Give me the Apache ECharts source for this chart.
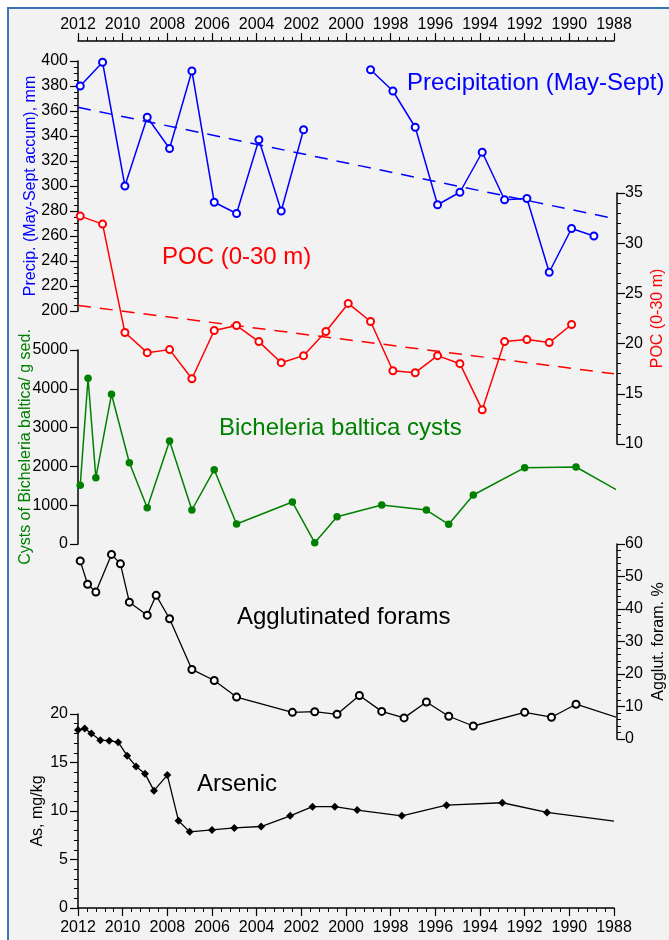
<!DOCTYPE html>
<html>
<head>
    <meta charset="utf-8" />
    <title>Precipitation, POC, cysts, forams, arsenic</title>
    <script src="https://cdn.jsdelivr.net/npm/echarts@6/dist/echarts.min.js"></script>
    <style>
        html, body { margin: 0; padding: 0; background: #fff; }
        #main { width: 669px; height: 940px; }
    </style>
</head>
<body>
    <div id="main"></div>
    <script type="text/javascript">
        // annual series (precipitation, POC), decimal years
        var annualYears = [2011.9, 2010.9, 2009.9, 2008.9, 2007.9, 2006.9, 2005.9, 2004.9, 2003.9, 2002.9, 2001.9, 2000.9,
            1999.9, 1998.9, 1997.9, 1996.9, 1995.9, 1994.9, 1993.9, 1992.9, 1991.9, 1990.9, 1989.9, 1988.9];
        var precip = [380, 399, 300, 355, 330, 392, 287, 278, 337, 280, 345, null,
            null, 393, 376, 347, 285, 295, 327, 289, 290, 231, 266, 260];
        var poc = [32.7, 31.9, 21.1, 19.1, 19.4, 16.5, 21.3, 21.8, 20.2, 18.1, 18.8, 21.2,
            24.0, 22.2, 17.3, 17.1, 18.8, 18.0, 13.4, 20.2, 20.4, 20.1, 21.9, null];
        var precipTrend = [[2012, 363], [1988, 274]];
        var pocTrend = [[2012, 23.8], [1988, 17.0]];

        // sediment core series
        var cystYears = [2011.9, 2011.55, 2011.2, 2010.5, 2009.7, 2008.9, 2007.9, 2006.9, 2005.9, 2004.9, 2002.4,
            2001.4, 2000.4, 1998.4, 1996.4, 1995.4, 1994.3, 1992.0, 1989.7, 1987.9];
        var cysts = [1513, 4271, 1709, 3858, 2095, 936, 2655, 876, 1915, 515, 1082,
            34, 704, 1005, 876, 507, 1263, 1967, 1985, 1400];

        var aggYears = [2011.9, 2011.57, 2011.2, 2010.5, 2010.1, 2009.7, 2008.9, 2008.5, 2007.9, 2006.9, 2005.9, 2004.9,
            2002.4, 2001.4, 2000.4, 1999.4, 1998.4, 1997.4, 1996.4, 1995.4, 1994.3, 1992.0, 1990.8, 1989.7, 1987.9];
        var agglut = [54.8, 47.6, 45.2, 56.8, 53.9, 42.1, 38.1, 44.2, 37.0, 21.4, 18.0, 12.9,
            8.2, 8.4, 7.6, 13.4, 8.5, 6.5, 11.4, 7.0, 4.0, 8.2, 6.7, 10.7, 6.7];

        var asYears = [2012.0, 2011.7, 2011.4, 2011.0, 2010.6, 2010.2, 2009.8, 2009.4, 2009.0, 2008.6, 2008.0, 2007.5,
            2007.0, 2006.0, 2005.0, 2003.8, 2002.5, 2001.5, 2000.5, 1999.5, 1997.5, 1995.5, 1993.0, 1991.0, 1988.0];
        var arsenic = [18.35, 18.5, 18.0, 17.3, 17.25, 17.1, 15.7, 14.6, 13.85, 12.1, 13.7, 9.0,
            7.85, 8.05, 8.25, 8.4, 9.5, 10.45, 10.45, 10.1, 9.5, 10.6, 10.85, 9.85, 8.95];

        var FONT = '"Liberation Sans", Arial, sans-serif';

        function pairs(xs, ys) {
            return xs.map(function (x, i) {
                return [x, ys[i] == null ? '-' : ys[i]];
            });
        }

        function plainNumber(v) {
            return String(v);
        }

        function xAxisFor(gridIndex, show, position) {
            return {
                gridIndex: gridIndex,
                type: 'value',
                min: 1988, max: 2012, interval: 2,
                inverse: true,
                show: show,
                position: position,
                offset: position === 'top' ? 20 : 0,
                axisLine: { show: true, lineStyle: { color: '#000', width: 1.5 } },
                axisTick: { show: true, length: 8, lineStyle: { color: '#000', width: 1.2 } },
                splitLine: { show: false },
                axisLabel: {
                    color: '#000', fontSize: 16, fontFamily: FONT, margin: position === 'top' ? 8 : 12,
                    formatter: plainNumber, showMinLabel: true, showMaxLabel: true
                }
            };
        }

        // extra axis only used to draw short minor ticks
        function minorXAxis(gridIndex, position) {
            return {
                gridIndex: gridIndex,
                type: 'value',
                min: 1988, max: 2012, interval: 0.4,
                inverse: true,
                position: position,
                offset: position === 'top' ? 20 : 0,
                axisLine: { show: false },
                axisTick: { show: true, length: 4, lineStyle: { color: '#000', width: 1 } },
                splitLine: { show: false },
                axisLabel: { show: false }
            };
        }

        function yAxisFor(gridIndex, opts) {
            var right = opts.position === 'right';
            return {
                gridIndex: gridIndex,
                type: 'value',
                position: opts.position,
                offset: right ? 3 : 0,
                min: opts.min, max: opts.max, interval: opts.interval,
                name: opts.name,
                nameLocation: 'middle',
                nameGap: opts.nameGap,
                nameMoveOverlap: false,
                nameTextStyle: { color: opts.nameColor, fontSize: 16, fontFamily: FONT },
                axisLine: { show: true, lineStyle: { color: '#000', width: 1.5 } },
                axisTick: { show: true, length: 8, lineStyle: { color: '#000', width: 1.2 } },
                splitLine: { show: false },
                axisLabel: { color: '#000', fontSize: 16, fontFamily: FONT, margin: right ? 8 : 10, formatter: plainNumber, showMinLabel: true, showMaxLabel: true }
            };
        }

        function minorYAxis(gridIndex, position, min, max, step) {
            return {
                gridIndex: gridIndex,
                type: 'value',
                position: position,
                offset: position === 'right' ? 3 : 0,
                min: min, max: max, interval: step,
                axisLine: { show: false },
                axisTick: { show: true, length: 4, lineStyle: { color: '#000', width: 1 } },
                splitLine: { show: false },
                axisLabel: { show: false }
            };
        }

        var chart = echarts.init(document.getElementById('main'), null, { renderer: 'canvas' });

        var option = {
            animation: false,
            backgroundColor: '#ffffff',
            graphic: [
                {
                    type: 'rect', z: -10, silent: true,
                    shape: { x: 8, y: 8, width: 700, height: 1000 },
                    style: { fill: '#f2f2f2', stroke: '#3b74b5', lineWidth: 2 }
                },
                { type: 'text', style: { text: 'Precipitation (May-Sept)', x: 407, y: 83, verticalAlign: 'middle', fill: '#0000ff', font: '24px ' + FONT } },
                { type: 'text', style: { text: 'POC (0-30 m)', x: 162, y: 257, verticalAlign: 'middle', fill: '#ff0000', font: '24px ' + FONT } },
                { type: 'text', style: { text: 'Bicheleria baltica cysts', x: 219, y: 428, verticalAlign: 'middle', fill: '#008000', font: '24px ' + FONT } },
                { type: 'text', style: { text: 'Agglutinated forams', x: 237, y: 617, verticalAlign: 'middle', fill: '#000', font: '24px ' + FONT } },
                { type: 'text', style: { text: 'Arsenic', x: 197, y: 784, verticalAlign: 'middle', fill: '#000', font: '24px ' + FONT } }
            ],
            grid: [
                { left: 78, right: 55, top: 61, height: 250, outerBoundsMode: 'none' },
                { left: 78, right: 55, top: 193, height: 251, outerBoundsMode: 'none' },
                { left: 78, right: 55, top: 350, height: 194, outerBoundsMode: 'none' },
                { left: 78, right: 55, top: 544, height: 195, outerBoundsMode: 'none' },
                { left: 78, right: 55, top: 714, height: 194, outerBoundsMode: 'none' }
            ],
            xAxis: [
                xAxisFor(0, true, 'top'),
                xAxisFor(1, false, 'bottom'),
                xAxisFor(2, false, 'bottom'),
                xAxisFor(3, false, 'bottom'),
                xAxisFor(4, true, 'bottom'),
                minorXAxis(0, 'top'),
                minorXAxis(4, 'bottom')
            ],
            yAxis: [
                yAxisFor(0, { position: 'left', min: 200, max: 400, interval: 20, name: 'Precip. (May-Sept accum), mm', nameColor: '#0000ff', nameGap: 39 }),
                yAxisFor(1, { position: 'right', min: 10, max: 35, interval: 5, name: 'POC (0-30 m)', nameColor: '#ff0000', nameGap: 33 }),
                yAxisFor(2, { position: 'left', min: 0, max: 5000, interval: 1000, name: 'Cysts of Bicheleria baltica/ g sed.', nameColor: '#008000', nameGap: 44 }),
                yAxisFor(3, { position: 'right', min: 0, max: 60, interval: 10, name: 'Agglut. foram. %', nameColor: '#000', nameGap: 34 }),
                yAxisFor(4, { position: 'left', min: 0, max: 20, interval: 5, name: 'As, mg/kg', nameColor: '#000', nameGap: 32 }),
                minorYAxis(0, 'left', 200, 400, 5),
                minorYAxis(1, 'right', 10, 35, 1),
                minorYAxis(3, 'right', 0, 60, 2),
                minorYAxis(4, 'left', 0, 20, 1)
            ],
            series: [
                {
                    name: 'Precipitation trend', type: 'line', xAxisIndex: 0, yAxisIndex: 0,
                    data: precipTrend, showSymbol: false, symbol: 'none',
                    lineStyle: { color: '#0000ff', width: 1.5, type: [13, 9] }
                },
                {
                    name: 'Precipitation', type: 'line', xAxisIndex: 0, yAxisIndex: 0,
                    data: pairs(annualYears, precip), connectNulls: false,
                    symbol: 'emptyCircle', symbolSize: 7,
                    lineStyle: { color: '#0000ff', width: 1.5 },
                    itemStyle: { color: '#0000ff', borderWidth: 1.5 }
                },
                {
                    name: 'POC trend', type: 'line', xAxisIndex: 1, yAxisIndex: 1,
                    data: pocTrend, showSymbol: false, symbol: 'none',
                    lineStyle: { color: '#ff0000', width: 1.5, type: [13, 9] }
                },
                {
                    name: 'POC', type: 'line', xAxisIndex: 1, yAxisIndex: 1,
                    data: pairs(annualYears, poc),
                    symbol: 'emptyCircle', symbolSize: 7,
                    lineStyle: { color: '#ff0000', width: 1.5 },
                    itemStyle: { color: '#ff0000', borderWidth: 1.5 }
                },
                {
                    name: 'Cysts', type: 'line', xAxisIndex: 2, yAxisIndex: 2,
                    data: pairs(cystYears, cysts).map(function (d, i, arr) {
                        return i === arr.length - 1 ? { value: d, symbol: 'none' } : d;
                    }),
                    symbol: 'circle', symbolSize: 7.5,
                    lineStyle: { color: '#008000', width: 1.5 },
                    itemStyle: { color: '#008000' }
                },
                {
                    name: 'Agglutinated', type: 'line', xAxisIndex: 3, yAxisIndex: 3,
                    data: pairs(aggYears, agglut).map(function (d, i, arr) {
                        return i === arr.length - 1 ? { value: d, symbol: 'none' } : d;
                    }),
                    symbol: 'emptyCircle', symbolSize: 7,
                    lineStyle: { color: '#000', width: 1.3 },
                    itemStyle: { color: '#000', borderWidth: 1.2 }
                },
                {
                    name: 'Arsenic', type: 'line', xAxisIndex: 4, yAxisIndex: 4,
                    data: pairs(asYears, arsenic).map(function (d, i, arr) {
                        return i === arr.length - 1 ? { value: d, symbol: 'none' } : d;
                    }),
                    symbol: 'diamond', symbolSize: 8,
                    lineStyle: { color: '#000', width: 1.3 },
                    itemStyle: { color: '#000' }
                }
            ]
        };

        chart.setOption(option);
    </script>
</body>
</html>
